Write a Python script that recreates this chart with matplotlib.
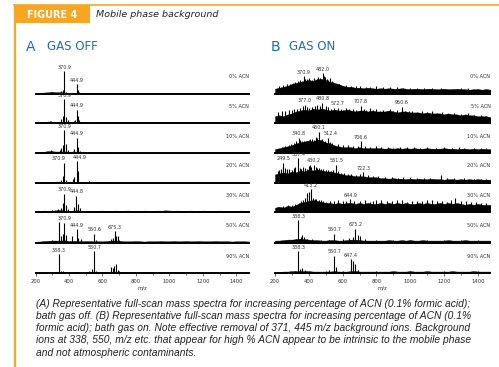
import numpy as np
import matplotlib
matplotlib.use('Agg')
import matplotlib.pyplot as plt
from matplotlib.patches import Rectangle
from matplotlib.lines import Line2D

# m/z grid for the background floor of each spectrum
mz_grid = np.arange(200, 1500, 25)

acn_levels = ['0% ACN', '5% ACN', '10% ACN', '20% ACN', '30% ACN', '50% ACN', '90% ACN']

# ---- A: gas off ----------------------------------------------------------
off_floor_00 = [0, 2, 4, 5, 6, 5, 6, 4, 3, 2, 3, 3, 1,
                1, 0, 0, 0, 0, 0, 0, 0, 0, 0, 0, 0, 0,
                0, 0, 0, 0, 0, 0, 0, 0, 0, 0, 0, 0, 0,
                0, 0, 0, 0, 0, 0, 0, 0, 0, 0, 0, 0, 0]
off_floor_05 = [0, 2, 4, 6, 5, 4, 6, 5, 3, 3, 4, 3, 1,
                1, 1, 0, 0, 0, 0, 0, 0, 0, 0, 0, 0, 0,
                0, 0, 0, 0, 0, 0, 0, 0, 0, 0, 0, 0, 0,
                0, 0, 0, 0, 0, 0, 0, 0, 0, 0, 0, 0, 0]
off_floor_10 = [2, 3, 5, 8, 7, 6, 6, 6, 4, 5, 6, 5, 3,
                3, 2, 2, 3, 2, 2, 2, 2, 2, 2, 2, 1, 1,
                1, 1, 1, 1, 1, 1, 1, 1, 1, 1, 1, 1, 1,
                0, 0, 0, 0, 0, 0, 0, 0, 0, 0, 0, 0, 0]
off_floor_20 = [2, 3, 4, 5, 5, 6, 6, 5, 3, 4, 5, 4, 2,
                2, 1, 1, 1, 1, 1, 0, 0, 0, 0, 0, 0, 0,
                0, 0, 0, 0, 0, 0, 0, 0, 0, 0, 0, 0, 0,
                0, 0, 0, 0, 0, 0, 0, 0, 0, 0, 0, 0, 0]
off_floor_30 = [4, 6, 8, 7, 8, 9, 10, 8, 6, 8, 9, 7, 6,
                6, 6, 7, 8, 6, 7, 8, 7, 6, 8, 7, 6, 7,
                8, 7, 6, 8, 7, 9, 8, 7, 8, 6, 7, 8, 7,
                6, 8, 7, 7, 6, 8, 7, 6, 7, 6, 8, 7, 6]
off_floor_50 = [3, 4, 6, 7, 8, 8, 8, 9, 6, 7, 6, 5, 6,
                6, 5, 5, 5, 6, 8, 8, 7, 5, 5, 5, 6, 5,
                4, 5, 5, 5, 6, 5, 5, 6, 5, 5, 6, 5, 5,
                6, 5, 5, 5, 6, 5, 5, 5, 4, 5, 5, 5, 4]
off_floor_90 = [2, 2, 2, 3, 3, 3, 3, 4, 3, 3, 3, 3, 4,
                5, 5, 4, 4, 4, 5, 6, 5, 4, 3, 3, 4, 3,
                4, 4, 4, 3, 3, 4, 3, 3, 4, 3, 3, 4, 3,
                3, 3, 4, 3, 3, 3, 3, 3, 3, 3, 3, 3, 3]

off_peaks_00 = [(290, 8), (300, 7), (355, 10), (362, 14), (370.9, 92), (380, 8),
                (444.9, 40), (455, 16), (462, 8)]
off_peaks_05 = [(285, 10), (295, 8), (355, 16), (362, 30), (370.9, 100), (380, 24),
                (392, 12), (430, 8), (438, 12), (444.9, 56), (452, 30), (460, 14),
                (470, 6)]
off_peaks_10 = [(290, 12), (300, 10), (345, 12), (355, 20), (362, 32), (370.9, 96),
                (380, 36), (392, 12), (425, 10), (432, 18), (444.9, 64), (455, 26),
                (465, 8)]
off_peaks_20 = [(350, 12), (362, 28), (370.9, 85), (380, 12), (425, 18), (432, 24),
                (444.9, 90), (455, 48), (520, 8)]
off_peaks_30 = [(300, 12), (335, 14), (355, 18), (362, 40), (370.9, 78), (380, 32),
                (395, 16), (432, 22), (444.8, 70), (455, 34), (465, 20)]
off_peaks_50 = [(300, 10), (338.3, 84), (350, 26), (362, 36), (370.9, 82), (380, 30),
                (420, 28), (444.9, 56), (455, 20), (470, 14), (550.6, 37), (560, 12),
                (650, 14), (662, 20), (675.3, 48), (682, 26), (690, 28), (700, 10)]
off_peaks_90 = [(338.3, 78), (350, 10), (365, 8), (500, 6), (520, 10), (535, 16),
                (550.7, 92), (560, 10), (575, 6), (650, 26), (662, 20), (670, 30),
                (680, 36), (690, 14), (700, 8)]

# labelled peaks: (m/z, horizontal nudge in points)
off_labels = [[(370.9, 0), (444.9, 0)], [(370.9, 0), (444.9, 0)],
              [(370.9, 0), (444.9, 0)], [(370.9, -4), (444.9, 2)],
              [(370.9, 0), (444.8, 0)],
              [(370.9, 0), (444.9, 0), (550.6, 0), (675.3, 0)],
              [(338.3, 0), (550.7, 0)]]

# ---- B: gas on -----------------------------------------------------------
on_floor_00 = [20, 24, 28, 32, 40, 44, 48, 52, 56, 52, 60, 60, 56,
               48, 44, 40, 32, 28, 28, 24, 24, 22, 24, 22, 20, 22,
               20, 22, 20, 20, 22, 20, 18, 20, 20, 18, 20, 20, 18,
               18, 20, 18, 18, 20, 18, 18, 16, 18, 18, 16, 18, 16]
on_floor_05 = [28, 32, 28, 36, 40, 48, 52, 56, 52, 60, 56, 60, 56,
               52, 56, 52, 52, 56, 52, 48, 52, 52, 48, 52, 48, 48,
               48, 52, 48, 44, 48, 48, 44, 44, 44, 40, 44, 40, 40,
               40, 36, 40, 36, 36, 32, 36, 32, 32, 28, 28, 28, 24]
on_floor_10 = [16, 20, 24, 28, 32, 40, 44, 48, 52, 48, 56, 52, 44,
               40, 32, 28, 24, 24, 24, 20, 24, 20, 20, 20, 20, 20,
               18, 20, 18, 20, 18, 20, 18, 20, 18, 18, 20, 18, 18,
               18, 20, 18, 18, 16, 18, 18, 16, 18, 16, 18, 16, 16]
on_floor_20 = [36, 40, 44, 40, 48, 44, 52, 48, 56, 52, 56, 52, 48,
               48, 44, 40, 36, 32, 32, 28, 28, 28, 24, 24, 24, 20,
               20, 18, 20, 18, 18, 16, 18, 16, 18, 16, 16, 18, 16,
               16, 14, 16, 16, 14, 16, 14, 16, 14, 16, 14, 14, 14]
on_floor_30 = [20, 24, 20, 28, 24, 32, 40, 44, 48, 52, 48, 44, 40,
               40, 36, 40, 36, 40, 40, 36, 40, 36, 40, 36, 36, 40,
               36, 40, 36, 40, 36, 40, 36, 36, 40, 36, 40, 36, 36,
               40, 36, 40, 36, 40, 36, 32, 36, 32, 36, 32, 32, 32]
on_floor_50 = [8, 8, 10, 12, 12, 14, 16, 14, 12, 10, 10, 8, 8,
               10, 10, 8, 8, 10, 12, 12, 10, 8, 8, 8, 8, 8,
               8, 10, 8, 8, 10, 8, 10, 8, 8, 10, 8, 8, 8,
               8, 8, 10, 8, 8, 8, 10, 8, 8, 8, 8, 8, 8]
on_floor_90 = [4, 4, 6, 6, 8, 8, 8, 8, 8, 6, 6, 6, 6,
               6, 8, 6, 6, 6, 8, 8, 6, 6, 6, 6, 6, 6,
               6, 6, 8, 6, 6, 6, 8, 6, 6, 6, 8, 6, 6,
               6, 6, 6, 8, 6, 6, 6, 6, 8, 6, 6, 6, 6]

on_peaks_00 = [(225, 30), (250, 36), (270, 40), (290, 40), (305, 44), (320, 48),
               (335, 52), (345, 56), (360, 52), (370.9, 72), (380, 60), (392, 60),
               (400, 64), (410, 56), (420, 56), (428, 64), (446, 60), (455, 68),
               (465, 64), (475, 60), (482.0, 84), (490, 72), (498, 68), (508, 60),
               (515, 56), (525, 64), (535, 52), (545, 48), (560, 40), (580, 40),
               (600, 32), (620, 36), (650, 32), (680, 30), (700, 32), (740, 28),
               (760, 28), (800, 30), (840, 26), (880, 28), (920, 26), (960, 24),
               (1000, 24), (1040, 24), (1080, 24), (1130, 22), (1180, 22), (1250, 20),
               (1300, 22), (1340, 22), (1400, 20), (1440, 20)]
on_peaks_05 = [(215, 44), (240, 48), (260, 52), (280, 56), (300, 56), (315, 60),
               (330, 60), (350, 64), (365, 72), (377.0, 76), (390, 68), (400, 64),
               (420, 68), (435, 72), (450, 76), (465, 72), (480.8, 84), (500, 72),
               (515, 68), (530, 60), (550, 64), (572.7, 64), (590, 60), (600, 56),
               (620, 64), (640, 60), (660, 60), (680, 56), (707.8, 72), (725, 60),
               (740, 56), (760, 64), (780, 56), (800, 60), (820, 52), (840, 56),
               (860, 52), (880, 60), (900, 52), (920, 56), (950.6, 68), (970, 52),
               (990, 48), (1010, 52), (1040, 44), (1070, 48), (1100, 44), (1130, 48),
               (1160, 40), (1190, 44), (1220, 36), (1260, 40), (1300, 36), (1340, 40),
               (1380, 32), (1420, 32), (1450, 28)]
on_peaks_10 = [(240, 24), (260, 28), (280, 32), (295, 36), (310, 40), (325, 48),
               (340.8, 64), (350, 56), (360, 52), (370, 48), (380, 44), (390, 52),
               (400, 56), (410, 60), (420, 60), (430, 56), (440, 68), (450, 64),
               (460.1, 88), (470, 56), (480, 60), (495, 52), (512.4, 64), (525, 44),
               (540, 40), (570, 36), (600, 32), (630, 32), (660, 28), (690, 30),
               (706.6, 48), (730, 28), (760, 24), (800, 28), (830, 24), (870, 26),
               (900, 22), (940, 26), (980, 24), (1020, 26), (1060, 22), (1100, 24),
               (1150, 22), (1200, 24), (1250, 20), (1290, 24), (1320, 22), (1380, 22),
               (1420, 20), (1450, 22)]
on_peaks_20 = [(215, 52), (225, 56), (235, 60), (249.5, 84), (260, 64), (270, 60),
               (285, 60), (300, 56), (310, 64), (320, 68), (337.4, 104), (345, 64),
               (355, 60), (365, 68), (380, 64), (390, 60), (400, 72), (408, 76),
               (415, 68), (430.2, 76), (440, 68), (450, 64), (460, 64), (470, 60),
               (485, 60), (500, 56), (515, 56), (530, 52), (545, 56), (561.5, 76),
               (575, 48), (590, 40), (610, 40), (630, 36), (650, 36), (680, 32),
               (700, 36), (722.3, 44), (750, 32), (780, 28), (810, 28), (850, 24),
               (890, 24), (930, 22), (960, 24), (1000, 24), (1040, 22), (1080, 20),
               (1120, 22), (1180, 32), (1220, 20), (1260, 20), (1320, 20), (1380, 18),
               (1420, 18), (1450, 16)]
on_peaks_30 = [(220, 24), (250, 28), (275, 32), (300, 32), (320, 36), (340, 40),
               (355, 48), (365, 52), (380, 60), (392, 80), (403, 84), (413.2, 96),
               (425, 60), (435, 56), (445, 56), (458, 52), (470, 52), (485, 48),
               (500, 44), (525, 48), (550, 48), (575, 52), (600, 48), (620, 48),
               (644.9, 56), (670, 48), (700, 48), (730, 52), (760, 44), (780, 48),
               (800, 52), (830, 52), (860, 48), (890, 48), (920, 52), (950, 52),
               (980, 44), (1010, 48), (1040, 48), (1070, 48), (1100, 52), (1130, 52),
               (1160, 48), (1190, 48), (1220, 44), (1240, 52), (1265, 60), (1300, 48),
               (1330, 48), (1360, 44), (1390, 44), (1420, 40), (1450, 40)]
on_peaks_50 = [(300, 12), (325, 16), (338.3, 92), (352, 24), (362, 32), (372, 24),
               (390, 16), (420, 16), (470, 12), (520, 12), (550.7, 36), (600, 16),
               (640, 20), (660, 24), (675.2, 58), (690, 32), (705, 28), (730, 14),
               (800, 12), (900, 12), (1000, 12), (1100, 12), (1200, 12), (1300, 12),
               (1400, 12)]
on_peaks_90 = [(320, 10), (338.3, 92), (350, 16), (362, 20), (375, 14), (500, 10),
               (520, 14), (550.7, 72), (562, 24), (600, 10), (647.4, 58), (660, 48),
               (672, 36), (690, 14), (800, 8), (1000, 8), (1200, 8), (1400, 8)]

on_labels = [[(370.9, 0), (482.0, 0)],
             [(377.0, 0), (480.8, 0), (572.7, 0), (707.8, 0), (950.6, 0)],
             [(340.8, 0), (460.1, 0), (512.4, 2), (706.6, 0)],
             [(249.5, 0), (337.4, 0), (430.2, 0), (561.5, 0), (722.3, 0)],
             [(413.2, 0), (644.9, 0)],
             [(338.3, 0), (550.7, 0), (675.2, 0)],
             [(338.3, 0), (550.7, 0), (647.4, 0)]]

off_floors = [off_floor_00, off_floor_05, off_floor_10, off_floor_20,
              off_floor_30, off_floor_50, off_floor_90]
off_peaks = [off_peaks_00, off_peaks_05, off_peaks_10, off_peaks_20,
             off_peaks_30, off_peaks_50, off_peaks_90]
on_floors = [on_floor_00, on_floor_05, on_floor_10, on_floor_20,
             on_floor_30, on_floor_50, on_floor_90]
on_peaks = [on_peaks_00, on_peaks_05, on_peaks_10, on_peaks_20,
            on_peaks_30, on_peaks_50, on_peaks_90]

ORANGE = '#f6a623'
BLUE = '#1f6db4'
W, H = 499, 367

fig = plt.figure(figsize=(W / 100, H / 100), dpi=100)


def fx(x):
    return x / W


def fy(y):
    return 1 - y / H


# header frame
fig.add_artist(Line2D([fx(14), fx(499)], [fy(5), fy(5)], color=ORANGE, lw=1.2))
fig.add_artist(Line2D([fx(14.5), fx(14.5)], [fy(5), fy(367)], color=ORANGE, lw=1.6))
fig.add_artist(Rectangle((fx(14), fy(23)), fx(76), 18 / H, color=ORANGE, lw=0))
fig.text(fx(52), fy(14.5), 'FIGURE 4', color='white', fontsize=7, fontweight='bold',
         ha='center', va='center')
fig.text(fx(96), fy(14.5), 'Mobile phase background', color='#222222', fontsize=6.8,
         style='italic', ha='left', va='center')

# panel titles
fig.text(fx(26), fy(47), 'A', color=BLUE, fontsize=10, ha='left', va='center')
fig.text(fx(47), fy(47), 'GAS OFF', color=BLUE, fontsize=8.5, ha='left', va='center')
fig.text(fx(271), fy(47), 'B', color=BLUE, fontsize=10, ha='left', va='center')
fig.text(fx(289), fy(47), 'GAS ON', color=BLUE, fontsize=8.5, ha='left', va='center')

baselines = [93.5, 123, 153, 183, 212.5, 242.5, 273]
row_h = 30


def draw_panel(left, width, floors, peaks, labels):
    for i, (floor, pk, lab) in enumerate(zip(floors, peaks, labels)):
        base = baselines[i]
        ax = fig.add_axes([fx(left), fy(base), fx(width), row_h / H])
        ax.patch.set_alpha(0)
        ax.fill_between(mz_grid, 0, floor, color='black', lw=0.3)
        mz = [p[0] for p in pk]
        inten = [p[1] for p in pk]
        ax.vlines(mz, 0, inten, color='black', lw=0.8)
        heights = dict(pk)
        for m, dx in lab:
            ax.annotate(f'{m:.1f}', (m, heights[m]), xytext=(dx, 1),
                        textcoords='offset points', ha='center', va='bottom',
                        fontsize=3.5, color='#333333')
        ax.text(1.0, 17 / row_h, acn_levels[i], transform=ax.transAxes, ha='right',
                va='center', fontsize=3.6, color='#333333')
        ax.set_xlim(200, 1475)
        ax.set_ylim(0, 125)
        for s in ['top', 'right', 'left']:
            ax.spines[s].set_visible(False)
        ax.spines['bottom'].set_linewidth(1.4)
        ax.set_yticks([])
        if i == len(floors) - 1:
            ax.set_xticks(np.arange(200, 1500, 200))
            ax.set_xticks(np.arange(200, 1500, 100), minor=True)
            ax.tick_params(axis='x', which='both', direction='out', length=2,
                           width=0.5, labelsize=3.8, pad=2, colors='#333333')
            ax.tick_params(axis='x', which='minor', length=1.2)
            ax.set_xlabel('m/z', fontsize=3.8, labelpad=1.5, color='#333333')
        else:
            ax.set_xticks([])


draw_panel(35.5, 213.5, off_floors, off_peaks, off_labels)
draw_panel(275, 215.5, on_floors, on_peaks, on_labels)

caption = ('(A) Representative full-scan mass spectra for increasing percentage of ACN (0.1% formic acid);\n'
           'bath gas off. (B) Representative full-scan mass spectra for increasing percentage of ACN (0.1%\n'
           'formic acid); bath gas on. Note effective removal of 371, 445 m/z background ions. Background\n'
           'ions at 338, 550, m/z etc. that appear for high % ACN appear to be intrinsic to the mobile phase\n'
           'and not atmospheric contaminants.')
fig.text(fx(36), fy(299), caption, fontsize=7.4, style='italic', color='#222222',
         family='Liberation Sans', ha='left', va='top', linespacing=1.27)

fig.savefig('out.png', dpi=100)
